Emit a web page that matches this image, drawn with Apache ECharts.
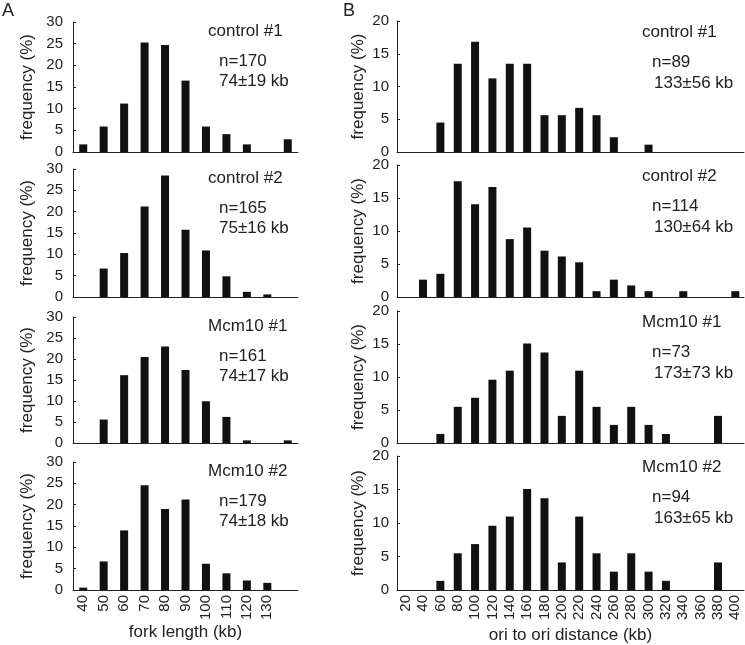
<!DOCTYPE html>
<html style="height: 100%">
<head>
  <meta charset="utf-8" />
  <title>fork length / ori to ori distance</title>
  <script src="https://cdn.jsdelivr.net/npm/echarts@6/dist/echarts.min.js"></script>
</head>
<body style="height: 100%; margin: 0; background: #fff">
  <div id="main" style="width: 745px; height: 645px"></div>
  <script>
    // categories (kb); last fork bin has no label
    const forkBins = ['40', '50', '60', '70', '80', '90', '100', '110', '120', '130', ''];
    const oriBins = ['20', '40', '60', '80', '100', '120', '140', '160', '180', '200',
      '220', '240', '260', '280', '300', '320', '340', '360', '380', '400'];

    // frequency (%) - panel A
    const forkCtrl1 = [1.76, 5.88, 11.18, 25.29, 24.71, 16.47, 5.88, 4.12, 1.76, 0, 2.94];
    const forkCtrl2 = [0, 6.67, 10.30, 21.21, 28.48, 15.76, 10.91, 4.85, 1.21, 0.61, 0];
    const forkMcm1 = [0, 5.59, 16.15, 20.50, 22.98, 17.39, 9.94, 6.21, 0.62, 0, 0.62];
    const forkMcm2 = [0.56, 6.70, 13.97, 24.58, 18.99, 21.23, 6.15, 3.91, 2.23, 1.68, 0];

    // frequency (%) - panel B
    const oriCtrl1 = [0, 0, 4.49, 13.48, 16.85, 11.24, 13.48, 13.48, 5.62, 5.62,
      6.74, 5.62, 2.25, 0, 1.12, 0, 0, 0, 0, 0];
    const oriCtrl2 = [0, 2.63, 3.51, 17.54, 14.04, 16.67, 8.77, 10.53, 7.02, 6.14,
      5.26, 0.88, 2.63, 1.75, 0.88, 0, 0.88, 0, 0, 0.88];
    const oriMcm1 = [0, 0, 1.37, 5.48, 6.85, 9.59, 10.96, 15.07, 13.70, 4.11,
      10.96, 5.48, 2.74, 5.48, 2.74, 1.37, 0, 0, 4.11, 0];
    const oriMcm2 = [0, 0, 1.37, 5.48, 6.85, 9.59, 10.96, 15.07, 13.70, 4.11,
      10.96, 5.48, 2.74, 5.48, 2.74, 1.37, 0, 0, 4.11, 0];

    const sampleNames = ['control #1', 'control #2', 'Mcm10 #1', 'Mcm10 #2'];
    const forkStats = [['n=170', '74±19 kb'], ['n=165', '75±16 kb'], ['n=161', '74±17 kb'], ['n=179', '74±18 kb']];
    const oriStats = [['n=89', '133±56 kb'], ['n=114', '130±64 kb'], ['n=73', '173±73 kb'], ['n=94', '163±65 kb']];

    const forkData = [forkCtrl1, forkCtrl2, forkMcm1, forkMcm2];
    const oriData = [oriCtrl1, oriCtrl2, oriMcm1, oriMcm2];

    const font = 'Liberation Sans, Arial, sans-serif';
    const ink = '#222';

    const leftTops = [22, 169, 317, 462];
    const leftBottoms = [152, 297, 443, 590];
    const rightTops = [21, 165, 311, 456];
    const rightBottoms = [152, 297, 443, 590];

    const grid = [], xAxis = [], yAxis = [], series = [], graphic = [];

    function addPanel(left, width, top, bottom, cats, data, yMax, last, xName, nameGap) {
      const idx = grid.length;
      grid.push({ left: left, width: width, top: top, height: bottom - top });
      xAxis.push({
        type: 'category', gridIndex: idx, data: cats,
        axisLine: { lineStyle: { color: ink, width: 1 } },
        axisTick: { inside: true, length: 4, lineStyle: { color: ink } },
        axisLabel: {
          show: last, rotate: 90, margin: 5, interval: 0,
          fontFamily: font, fontSize: 15, color: ink
        },
        name: last ? xName : '', nameLocation: 'middle', nameGap: nameGap,
        nameTextStyle: { fontFamily: font, fontSize: 17, color: ink }
      });
      yAxis.push({
        type: 'value', gridIndex: idx, min: 0, max: yMax, interval: 5,
        splitLine: { show: false },
        axisLine: { show: true, lineStyle: { color: ink, width: 1 } },
        axisTick: { show: true, inside: true, length: 3, lineStyle: { color: ink } },
        axisLabel: { fontFamily: font, fontSize: 15, color: ink, margin: left < 200 ? 10 : 8 },
        name: 'frequency (%)', nameLocation: 'middle', nameRotate: 90,
        nameGap: left < 200 ? 37 : 30,
        nameTextStyle: { fontFamily: font, fontSize: 17, color: ink }
      });
      series.push({
        type: 'bar', xAxisIndex: idx, yAxisIndex: idx, data: data,
        barWidth: 8, itemStyle: { color: '#111' }, silent: true
      });
    }

    function addText(text, x, y) {
      graphic.push({
        type: 'text', x: x, y: y,
        style: { text: text, fontFamily: font, fontSize: 17, fill: ink, textVerticalAlign: 'middle' }
      });
    }

    for (let i = 0; i < 4; i++) {
      addPanel(73, 225, leftTops[i], leftBottoms[i], forkBins, forkData[i], 30, i === 3, 'fork length (kb)', 34);
      addText(sampleNames[i], 208, leftTops[i] + 9);
      addText(forkStats[i][0], 219, leftTops[i] + 39);
      addText(forkStats[i][1], 219, leftTops[i] + 59);
    }
    for (let i = 0; i < 4; i++) {
      addPanel(397, 347, rightTops[i], rightBottoms[i], oriBins, oriData[i], 20, i === 3, 'ori to ori distance (kb)', 37);
      addText(sampleNames[i], 642, rightTops[i] + 11);
      addText(oriStats[i][0], 652, rightTops[i] + 41);
      addText(oriStats[i][1], 654, rightTops[i] + 62);
    }

    graphic.push({ type: 'text', x: 2, y: 11, style: { text: 'A', fontFamily: font, fontSize: 18, fill: ink, textVerticalAlign: 'middle' } });
    graphic.push({ type: 'text', x: 343, y: 11, style: { text: 'B', fontFamily: font, fontSize: 18, fill: ink, textVerticalAlign: 'middle' } });

    const chart = echarts.init(document.getElementById('main'));
    chart.setOption({
      animation: false,
      backgroundColor: '#fff',
      grid: grid,
      xAxis: xAxis,
      yAxis: yAxis,
      series: series,
      graphic: graphic
    });
  </script>
</body>
</html>
